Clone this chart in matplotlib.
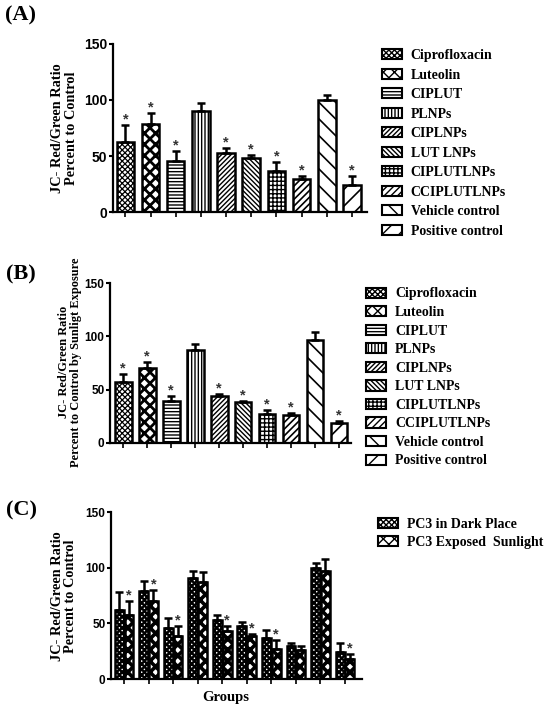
import numpy as np
import matplotlib
matplotlib.use("Agg")
import matplotlib.pyplot as plt
from matplotlib.patches import Patch

plt.rcParams['hatch.linewidth'] = 1.0
SERIF = 'Liberation Serif'
SANS = 'Liberation Sans'

# -------------------------------
# Data
# -------------------------------
groups = ["Ciprofloxacin", "Luteolin", "CIPLUT", "PLNPs", "CIPLNPs",
          "LUT LNPs", "CIPLUTLNPs", "CCIPLUTLNPs", "Vehicle control",
          "Positive control"]
hatches = ["x" * 6, "xxx", "-" * 5, "|" * 5, "/" * 7,
           "\\" * 7, "+" * 4, "/" * 5, "\\\\", "//"]
hatch_lw = [0.9, 2.0, 1.0, 1.0, 1.0, 1.0, 1.0, 1.2, 1.2, 1.2]

dark_mean = [62.5, 79, 45.5, 90.5, 53, 48, 37, 29.5, 99.5, 24.5]
dark_err = [15.5, 9.5, 9, 6.5, 4.5, 3, 7.5, 2.8, 4.5, 7.5]
dark_star = [1, 1, 1, 0, 1, 1, 1, 1, 0, 1]

sun_mean = [57.4, 70.3, 38.9, 87.2, 43.6, 38.3, 27.3, 26, 97, 18.2]
sun_err = [7.5, 5.6, 5, 6, 2.5, 1.3, 3.8, 2.2, 6.9, 2.5]
sun_star = [1, 1, 1, 0, 1, 1, 1, 1, 0, 1]

# panel C shows other error bars for the sunlight series
sun_err_c = [13, 10, 8.4, 9.3, 4.5, 2.4, 8, 3.3, 10.8, 4.5]
sun_star_c = [1, 1, 1, 0, 1, 1, 1, 0, 0, 1]

yticks = [0, 50, 100, 150]

W, H = 550, 712
fig = plt.figure(figsize=(5.5, 7.12), dpi=100)


def set_hlw(patch, lw):
    if hasattr(patch, "set_hatch_linewidth"):
        patch.set_hatch_linewidth(lw)


def px_axes(left, top, right, bottom):
    return fig.add_axes([left / W, 1 - bottom / H, (right - left) / W, (bottom - top) / H])


def style_axes(ax, xlim, ticksize):
    ax.set_xlim(*xlim)
    ax.set_ylim(0, 150)
    ax.set_yticks(yticks)
    ax.set_xticks(range(10))
    ax.set_xticklabels([])
    for s in ["top", "right"]:
        ax.spines[s].set_visible(False)
    for s in ["left", "bottom"]:
        ax.spines[s].set_linewidth(1.6)
    ax.tick_params(axis='y', direction='out', length=3, width=1.5, pad=1)
    ax.tick_params(axis='x', direction='out', length=3.5, width=1.2)
    for t in ax.get_yticklabels():
        t.set_fontfamily(SANS)
        t.set_fontweight('bold')
        t.set_fontsize(ticksize)


def draw_bars(ax, x, mean, err, star, hatch_list, hlw_list, width):
    for i in range(len(mean)):
        b = ax.bar(x[i], mean[i], width, color='white', edgecolor='black',
                   linewidth=1.8, hatch=hatch_list[i], zorder=2)
        set_hlw(b[0], hlw_list[i])
    ax.errorbar(x, mean, yerr=[np.zeros(len(err)), err], fmt='none',
                ecolor='black', elinewidth=1.8, capsize=3, capthick=1.8, zorder=3)
    for i in range(len(mean)):
        if star[i]:
            ax.text(x[i], mean[i] + err[i] + 5, '*', ha='center', va='center',
                    fontsize=10.5, fontweight='bold', color='#333333', fontfamily=SANS)


def add_legend(handles, labels, left, top, spacing):
    fig.legend(handles, labels, loc='upper left',
               bbox_to_anchor=(left / W, 1 - top / H), frameon=False,
               borderpad=0, borderaxespad=0, handlelength=1.45, handleheight=0.75,
               handletextpad=0.65, labelspacing=spacing,
               prop={'family': SERIF, 'weight': 'bold', 'size': 10})


def make_handles(hatch_list, hlw_list):
    out = []
    for h, lw in zip(hatch_list, hlw_list):
        p = Patch(facecolor='white', edgecolor='black', hatch=h, lw=1.5)
        set_hlw(p, lw)
        out.append(p)
    return out


x = np.arange(10)

# -------------------------------
# Panel A
# -------------------------------
axA = px_axes(113, 43.7, 367, 212.3)
style_axes(axA, (-0.49, 9.6), 10)
draw_bars(axA, x, dark_mean, dark_err, dark_star, hatches, hatch_lw, 0.7)
fig.text(64.7 / W, 1 - 128 / H, "JC- Red/Green Ratio\nPercent to Control",
         rotation=90, ha='center', va='center', multialignment='center',
         fontfamily=SERIF, fontweight='bold', fontsize=10.3, linespacing=1.05)
fig.text(5 / W, 1 - 15 / H, "(A)", ha='left', va='center',
         fontfamily=SERIF, fontweight='bold', fontsize=16)
add_legend(make_handles(hatches, hatch_lw), groups, 381.7, 49, 0.47)

# -------------------------------
# Panel B
# -------------------------------
axB = px_axes(110, 283.3, 350.7, 442.7)
style_axes(axB, (-0.555, 9.49), 8.5)
draw_bars(axB, x, sun_mean, sun_err, sun_star, hatches, hatch_lw, 0.7)
fig.text(70 / W, 1 - 362 / H, "JC- Red/Green Ratio\nPercent to Control by Sunligt Exposure",
         rotation=90, ha='center', va='center', multialignment='center',
         fontfamily=SERIF, fontweight='bold', fontsize=8.9, linespacing=1.05)
fig.text(6 / W, 1 - 274 / H, "(B)", ha='left', va='center',
         fontfamily=SERIF, fontweight='bold', fontsize=16)
add_legend(make_handles(hatches, hatch_lw), groups, 366, 287.5, 0.40)

# -------------------------------
# Panel C
# -------------------------------
axC = px_axes(111, 512.3, 361.7, 679)
style_axes(axC, (-0.53, 9.68), 8.5)
bw = 0.36
pair_hatch = ["x" * 6, "xxx"]
pair_hlw = [1.7, 2.6]
draw_bars(axC, x - 0.2, dark_mean, dark_err, [0] * 10, [pair_hatch[0]] * 10, [pair_hlw[0]] * 10, bw)
draw_bars(axC, x + 0.2, sun_mean, sun_err_c, sun_star_c, [pair_hatch[1]] * 10, [pair_hlw[1]] * 10, bw)
fig.text(64 / W, 1 - 596 / H, "JC- Red/Green Ratio\nPercent to Control",
         rotation=90, ha='center', va='center', multialignment='center',
         fontfamily=SERIF, fontweight='bold', fontsize=10.3, linespacing=1.05)
fig.text(225.5 / W, 1 - 698 / H, "Groups", ha='center', va='center',
         fontfamily=SERIF, fontweight='bold', fontsize=10.5)
fig.text(6 / W, 1 - 510 / H, "(C)", ha='left', va='center',
         fontfamily=SERIF, fontweight='bold', fontsize=16)
add_legend(make_handles(pair_hatch, pair_hlw), ["PC3 in Dark Place", "PC3 Exposed  Sunlight"],
           378, 517.5, 0.38)

fig.savefig("out.png", dpi=100)
